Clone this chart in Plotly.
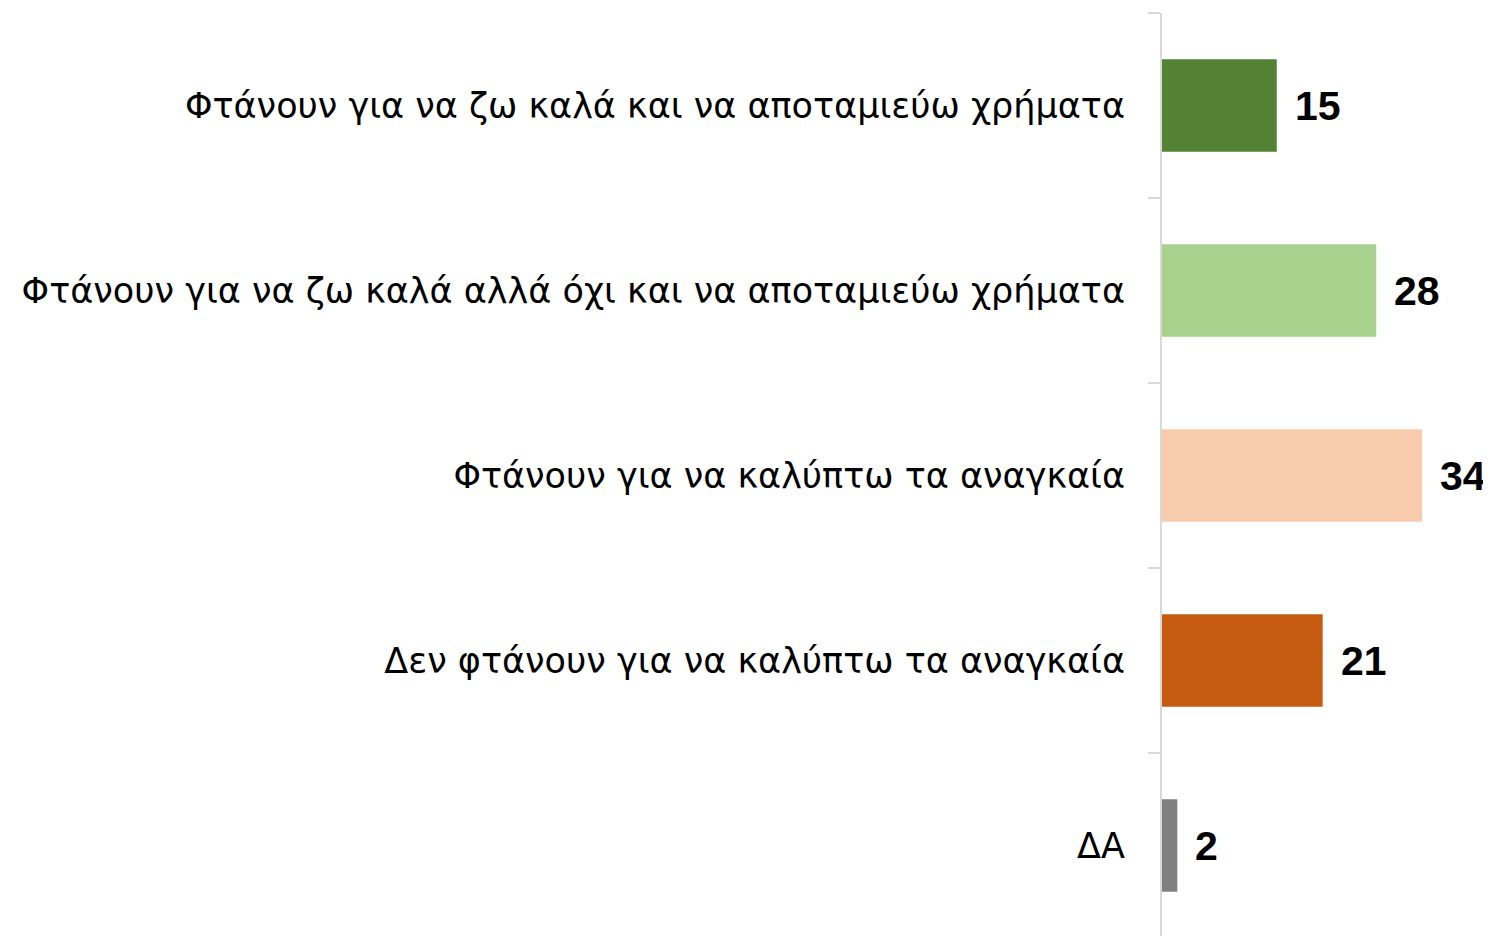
import plotly.graph_objects as go

# answer categories, top to bottom
categories = [
    "Φτάνουν για να ζω καλά και να αποταμιεύω χρήματα",
    "Φτάνουν για να ζω καλά αλλά όχι και να αποταμιεύω χρήματα",
    "Φτάνουν για να καλύπτω τα αναγκαία",
    "Δεν φτάνουν για να καλύπτω τα αναγκαία",
    "ΔΑ",
]
values = [15, 28, 34, 21, 2]
colors = ["#548235", "#a9d18e", "#f8cbad", "#c55a11", "#808080"]

axis_grey = "#d9d9d9"

fig = go.Figure(
    go.Bar(
        x=values,
        y=categories,
        orientation="h",
        width=0.5,
        marker=dict(color=colors, line=dict(width=0)),
        hoverinfo="skip",
    )
)

# value labels next to the bars
for cat, val in zip(categories, values):
    fig.add_annotation(
        x=val, y=cat, text=str(val), showarrow=False,
        xanchor="left", yanchor="middle", xshift=16,
        font=dict(family="Liberation Sans", size=41, color="black", weight="bold"),
    )

# page adds ~8px body margin, so figure is a bit smaller than the window
fig.update_layout(
    width=1483, height=928,
    margin=dict(l=1154, r=0, t=5, b=0),
    plot_bgcolor="white", paper_bgcolor="white",
    showlegend=False,
    font=dict(family="DejaVu Sans", size=35, color="black"),
)
fig.update_xaxes(visible=False, range=[0, 43])
fig.update_yaxes(
    categoryorder="array", categoryarray=categories,
    range=[4.489, -0.5],
    showline=True, linecolor=axis_grey, linewidth=2,
    ticks="outside", tickson="boundaries", ticklen=12,
    tickcolor=axis_grey, tickwidth=2,
    ticklabelstandoff=28,
    showgrid=False, zeroline=False,
)

fig.write_html("out.html")
